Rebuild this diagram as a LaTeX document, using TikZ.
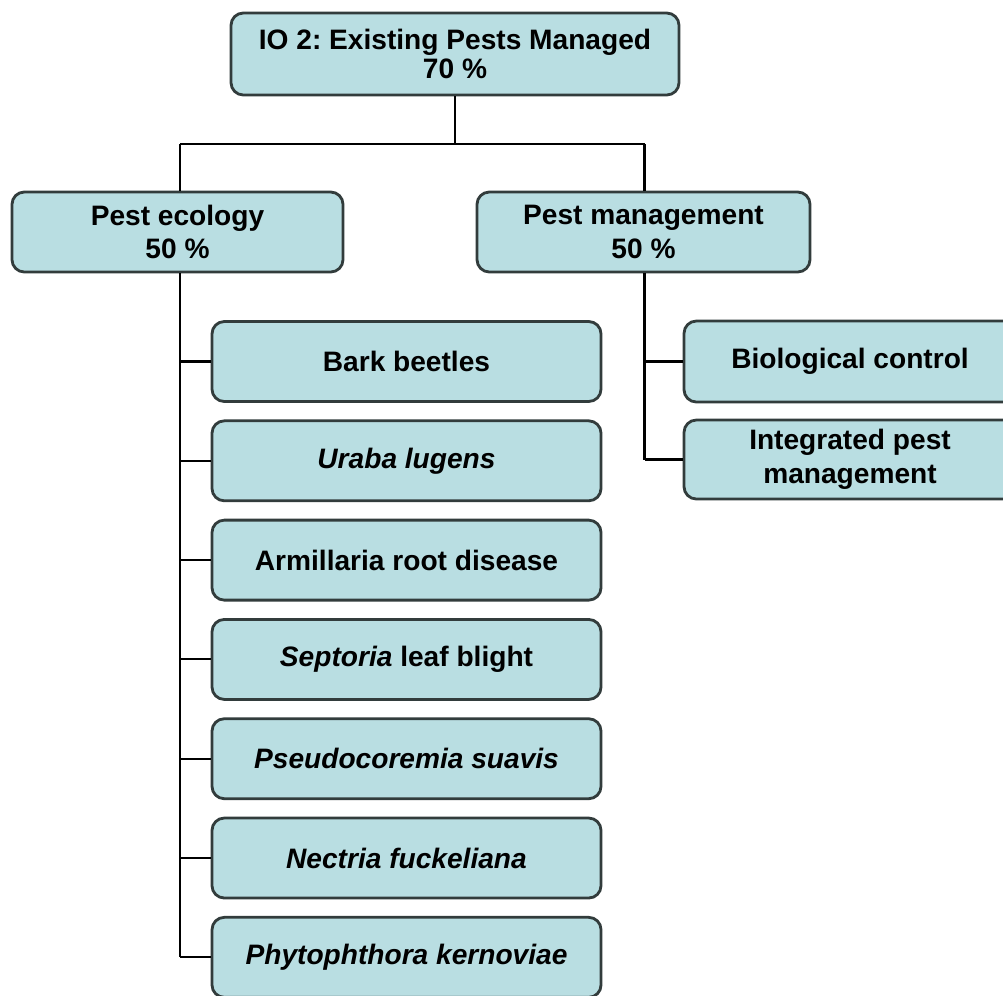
\documentclass[tikz,border=0pt]{standalone}
\usepackage{fontspec}
\setmainfont{Liberation Sans}
\frenchspacing
\definecolor{boxfill}{RGB}{185,222,226}
\definecolor{boxline}{RGB}{50,60,60}
\begin{document}
\begin{tikzpicture}[
  box/.style={draw=boxline, line width=0.8pt, fill=boxfill, rounded corners=3.5pt,
    minimum height=0.8cm, inner sep=0pt, align=center,
    font=\fontsize{8}{9.6}\selectfont\bfseries},
  link/.style={line width=0.6pt}]
\clip (0,0) rectangle (10.03,-9.95);
\fill[white] (0,0) rectangle (10.03,-9.95);
% top level
\node[box, minimum width=4.48cm, minimum height=0.82cm] (io) at (4.55,-0.54)
  {IO 2: Existing Pests Managed\\[-1.5pt]70 \%};
% second level
\node[box, minimum width=3.31cm] (eco) at (1.775,-2.32) {Pest ecology\\50 \%};
\node[box, minimum width=3.33cm] (mgmt) at (6.435,-2.32) {Pest management\\50 \%};
% bus and spines
\coordinate (spineL) at (1.80,-1.44);
\coordinate (spineR) at (6.445,-1.44);
\draw[link] (io.south) |- (spineL);
\draw[link] (spineL) -- (spineR);
\draw[link] (spineL) -- (spineL |- eco.north);
\draw[link] (spineR) -- (spineR |- mgmt.north);
% pest ecology items
\foreach \name/\txt [count=\i from 0] in {
    bark/{Bark beetles},
    uraba/{\itshape Uraba lugens},
    armi/{Armillaria root disease},
    sept/{\textit{Septoria} leaf blight},
    pseudo/{\itshape Pseudocoremia suavis},
    nect/{\itshape Nectria fuckeliana},
    phyto/{\itshape Phytophthora kernoviae}}
  \node[box, minimum width=3.89cm] (\name) at (4.065,-3.615-0.993*\i) {\txt};
\draw[link] (spineL |- eco.south) -- (spineL |- phyto.west);
\foreach \name in {bark,uraba,armi,sept,pseudo,nect,phyto}
  \draw[link] (spineL |- \name.west) -- (\name.west);
% pest management items
\node[box, minimum width=3.32cm, minimum height=0.81cm] (bio) at (8.50,-3.615) {Biological control};
\node[box, minimum width=3.32cm, minimum height=0.79cm] (ipm) at (8.50,-4.595) {Integrated pest\\management};
\draw[link] (spineR |- mgmt.south) -- (spineR |- ipm.west);
\foreach \name in {bio,ipm}
  \draw[link] (spineR |- \name.west) -- (\name.west);
\end{tikzpicture}
\end{document}
